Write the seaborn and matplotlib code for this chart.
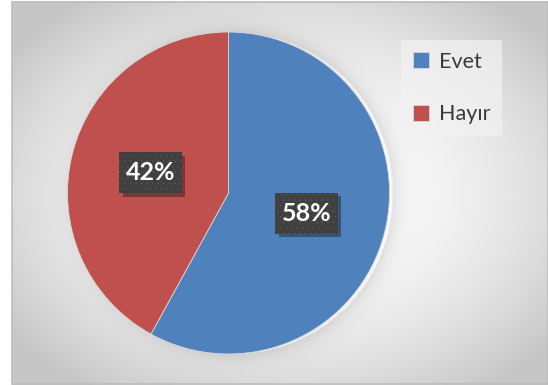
import numpy as np
import pandas as pd
import matplotlib
matplotlib.use("Agg")
import matplotlib.pyplot as plt
import matplotlib.patheffects as pe
from matplotlib.patches import Rectangle
import seaborn as sns

# Survey answers and their shares (%)
answers = ["Evet", "Hayır"]
shares = [58, 42]
colors = ["#4f81bd", "#c0504d"]

df = pd.DataFrame({"answer": answers, "share": shares})

sns.set_theme(style="white")
plt.rcParams["font.family"] = ["Lato", "DejaVu Sans"]
plt.rcParams["hatch.linewidth"] = 0.4

W, H = 548, 385
fig = plt.figure(figsize=(W / 100, H / 100), dpi=100)
ax = fig.add_axes([0, 0, 1, 1])
ax.set_xlim(0, W)
ax.set_ylim(0, H)
ax.set_aspect("equal")
ax.axis("off")

# pie geometry in pixel units (y up)
cx, cy, R = 228.5, H - 193.0, 161.0

# radial gradient background with soft shadow around the pie
yy, xx = np.mgrid[0:H, 0:W] + 0.5
yy_up = H - yy
d2 = ((xx - 280) / 274.0) ** 2 + ((yy - 193) / 192.0) ** 2
val = 1.0 - np.minimum(0.14 * d2, 0.22)
r = np.hypot(xx - cx, yy_up - cy)
shadow = np.where(r > R, 0.10 * np.exp(-(r - R) / 9.0), 0.0)
val = val * (1 - shadow)
img = np.dstack([val, val, val])
ax.imshow(img, extent=(12, W, 0, H - 1), origin="upper", zorder=0,
          interpolation="bilinear", aspect="auto")
# chart frame
ax.add_patch(Rectangle((12, 1), W - 12, H - 3, fill=False,
                       edgecolor="#bdbdbd", linewidth=1.2, zorder=1))

wedges, texts, autotexts = ax.pie(
    df["share"], colors=colors, startangle=90, counterclock=False,
    center=(cx, cy), radius=R, autopct="%1.0f%%", pctdistance=0.5,
    wedgeprops=dict(linewidth=0.6, edgecolor="#d9d9d9"),
    textprops=dict(color="white", fontsize=18, fontweight="bold"),
)
for w in wedges:
    w.set_zorder(2)

ax.set_xlim(0, W)
ax.set_ylim(0, H)

# dark label boxes behind the percentages, sized from the text extents
fig.canvas.draw()
for t in autotexts:
    t.set_zorder(5)
    tx, ty = t.get_position()
    bb = t.get_window_extent()
    bw, bh = bb.width + 13, 41
    box = Rectangle((tx - bw / 2, ty - bh / 2), bw, bh, facecolor="#404040",
                    edgecolor="#565656", linewidth=0, hatch="...", zorder=4)
    box.set_path_effects([
        pe.SimplePatchShadow(offset=(2.5, -2.5), shadow_rgbFace="black", alpha=0.35),
        pe.Normal(),
    ])
    ax.add_patch(box)

leg = ax.legend(wedges, df["answer"], loc="upper left",
                bbox_to_anchor=(401 / W, 1 - 40 / H), frameon=True,
                facecolor="#f2f2f2", edgecolor="none", framealpha=0.7,
                fontsize=15.5, handlelength=0.75, handleheight=0.75,
                handletextpad=0.45, labelspacing=1.5, borderpad=0.55,
                borderaxespad=0, labelcolor="#3a3a3a", fancybox=False)
leg.set_zorder(6)

fig.savefig("out.png", dpi=100)
